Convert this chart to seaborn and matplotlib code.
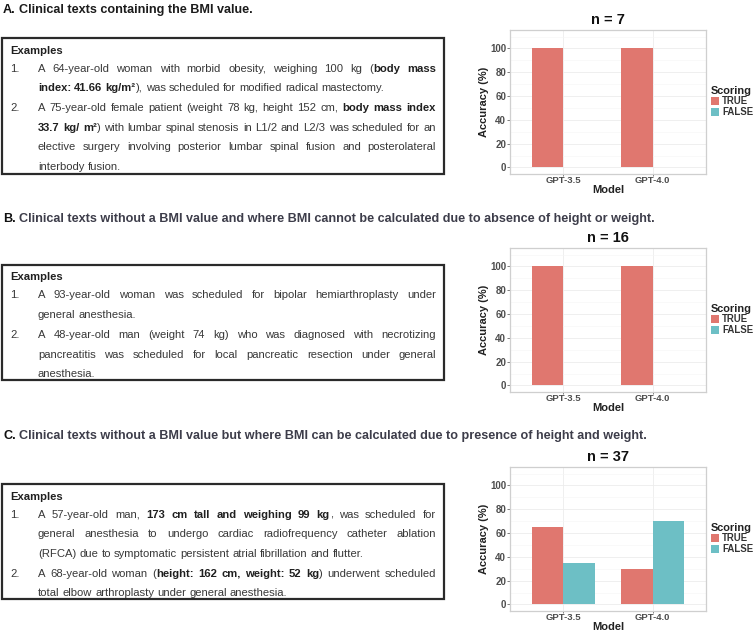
import matplotlib
matplotlib.use("Agg")
import matplotlib.pyplot as plt
from matplotlib.patches import Rectangle, Patch
import seaborn as sns
import pandas as pd

# ---------------- data ----------------
models = ["GPT-3.5", "GPT-4.0"]
scoring_levels = ["TRUE", "FALSE"]
n_a = 7
true_a = [100, 100]
false_a = [0, 0]
n_b = 16
true_b = [100, 100]
false_b = [0, 0]
n_c = 37
true_c = [65, 30]
false_c = [35, 70]
yticks = [0, 20, 40, 60, 80, 100]

titles = [
    ("A.", "Clinical texts containing the BMI value."),
    ("B.", "Clinical texts without a BMI value and where BMI cannot be calculated due to absence of height or weight."),
    ("C.", "Clinical texts without a BMI value but where BMI can be calculated due to presence of height and weight."),
]

# each example: list of lines, ** marks bold
examples_a = [
    ["A 64-year-old woman with morbid obesity, weighing 100 kg (**body mass**",
     "**index: 41.66 kg/m²**), was scheduled for modified radical mastectomy."],
    ["A 75-year-old female patient (weight 78 kg, height 152 cm, **body mass index**",
     "**33.7 kg/ m²**) with lumbar spinal stenosis in L1/2 and L2/3 was scheduled for an",
     "elective surgery involving posterior lumbar spinal fusion and posterolateral",
     "interbody fusion."],
]
examples_b = [
    ["A 93-year-old woman was scheduled for bipolar hemiarthroplasty under",
     "general anesthesia."],
    ["A 48-year-old man (weight 74 kg) who was diagnosed with necrotizing",
     "pancreatitis was scheduled for local pancreatic resection under general",
     "anesthesia."],
]
examples_c = [
    ["A 57-year-old man, **173 cm tall and weighing 99 kg**, was scheduled for",
     "general anesthesia to undergo cardiac radiofrequency catheter ablation",
     "(RFCA) due to symptomatic persistent atrial fibrillation and flutter."],
    ["A 68-year-old woman (**height: 162 cm, weight: 52 kg**) underwent scheduled",
     "total elbow arthroplasty under general anesthesia."],
]

# ---------------- style ----------------
sns.set_theme(style="white")
FONT = ["Liberation Sans", "DejaVu Sans"]
plt.rcParams["font.family"] = FONT

RED = "#E0776F"
TEAL = "#6DBFC5"
W, H = 755, 633
fig = plt.figure(figsize=(W / 100, H / 100), dpi=100)
fig.patch.set_facecolor("white")

ov = fig.add_axes([0, 0, 1, 1], zorder=0)
ov.set_xlim(0, W)
ov.set_ylim(H, 0)
ov.axis("off")
renderer = fig.canvas.get_renderer()

BODY_FS = 8.15
BODY_COLOR = "#383838"
TITLE_FS = 9.1


def tw(s, bold, fs=BODY_FS):
    t = ov.text(0, 0, s, fontsize=fs, fontweight="bold" if bold else "normal")
    w = t.get_window_extent(renderer).width
    t.remove()
    return w


def parse(line):
    parts = line.split("**")
    segs = [(p, i % 2 == 1) for i, p in enumerate(parts) if p]
    words, cur = [], []
    for text, bold in segs:
        toks = text.split(" ")
        for j, tok in enumerate(toks):
            if j > 0 and cur:
                words.append(cur)
                cur = []
            if tok:
                cur.append((tok, bold))
    if cur:
        words.append(cur)
    return words


SPACE = tw("a a", False) - tw("aa", False)


def draw_line(line, x0, x1, y, justify):
    words = parse(line)
    widths = [[tw(s, b) for s, b in wd] for wd in words]
    total = sum(sum(w) for w in widths)
    if justify and len(words) > 1:
        gap = max((x1 - x0 - total) / (len(words) - 1), 0.7 * SPACE)
    else:
        gap = SPACE
    x = x0
    for wd, ws in zip(words, widths):
        for (s, b), w in zip(wd, ws):
            ov.text(x, y, s, fontsize=BODY_FS, fontweight="bold" if b else "normal",
                    color="#202020" if b else BODY_COLOR, va="baseline", ha="left")
            x += w
        x += gap


def draw_box(top, height, examples):
    ov.add_patch(Rectangle((2, top), 442, height, fill=False, edgecolor="#2a2a2a", lw=1.6, zorder=3))
    ov.text(10, top + 12 + 3.5, "Examples", fontsize=BODY_FS, fontweight="bold",
            color="#202020", va="baseline")
    y = top + 30
    for k, ex in enumerate(examples):
        ov.text(10, y + 3.5, f"{k + 1}.", fontsize=BODY_FS, color=BODY_COLOR, va="baseline")
        for i, line in enumerate(ex):
            draw_line(line, 38, 436, y + 3.5, justify=(i < len(ex) - 1))
            y += 19.7


def draw_title(y, letter, rest, rest_color):
    base = y + 4.2
    ov.text(3, base, letter, fontsize=TITLE_FS, fontweight="bold", color="#111111",
            va="baseline")
    x = 3 + tw(letter, True, TITLE_FS) + (tw("a a", True, TITLE_FS) - tw("aa", True, TITLE_FS))
    ov.text(x, base, rest, fontsize=TITLE_FS, fontweight="bold", color=rest_color,
            va="baseline")


draw_title(9, *titles[0], rest_color="#1c1c1c")
draw_title(218, *titles[1], rest_color="#3d3d4a")
draw_title(435, *titles[2], rest_color="#3d3d4a")

draw_box(38, 136, examples_a)
draw_box(265, 115, examples_b)
draw_box(484, 115, examples_c)


def chart(top, n, tvals, fvals):
    left, right, bottom = 510, 706, top + 144
    ax = fig.add_axes([left / W, 1 - bottom / H, (right - left) / W, (bottom - top) / H], zorder=2)
    df = pd.DataFrame({
        "Model": models * 2,
        "Accuracy": list(tvals) + list(fvals),
        "Scoring": [scoring_levels[0]] * len(models) + [scoring_levels[1]] * len(models),
    })
    sns.barplot(data=df, x="Model", y="Accuracy", hue="Scoring", hue_order=scoring_levels,
                order=models, palette=[RED, TEAL], width=0.7, saturation=1,
                linewidth=0, errorbar=None, ax=ax, legend=False)
    ax.set_xlim(-0.6, 1.6)
    ax.set_ylim(-5.5, 115.5)
    ax.set_yticks(yticks)
    ax.set_yticks([10, 30, 50, 70, 90, 110], minor=True)
    ax.set_facecolor("white")
    ax.set_axisbelow(True)
    ax.grid(True, which="major", color="#ececec", lw=0.6)
    ax.grid(True, which="minor", axis="y", color="#f5f5f5", lw=0.4)
    for sp in ax.spines.values():
        sp.set_visible(True)
        sp.set_color("#cfcfcf")
        sp.set_linewidth(0.9)
    ax.tick_params(axis="y", which="major", length=2, width=0.6, color="#666666",
                   labelcolor="#4d4d4d", labelsize=7, pad=0.8, left=True)
    ax.tick_params(axis="x", which="major", length=1.5, width=0.6, color="#666666",
                   labelcolor="#4d4d4d", labelsize=6.8, pad=0, bottom=True)
    ax.tick_params(axis="y", which="minor", length=0)
    for lab in ax.get_xticklabels() + ax.get_yticklabels():
        lab.set_fontweight("bold")
    ax.set_xlabel("Model", fontsize=8, fontweight="bold", color="#222222", labelpad=0)
    ax.set_ylabel("Accuracy (%)", fontsize=8, fontweight="bold", color="#222222", labelpad=0.5)
    ax.set_title(f"n = {n}", fontsize=10.5, fontweight="bold", color="#111111", pad=4)
    handles = [Patch(facecolor=RED, edgecolor="none"), Patch(facecolor=TEAL, edgecolor="none")]
    leg = ax.legend(handles, scoring_levels, title="Scoring", loc="upper left",
                    bbox_to_anchor=(711 / W, 1 - (top + 56) / H), bbox_transform=fig.transFigure,
                    frameon=False, handlelength=0.8, handleheight=0.95, handletextpad=0.35,
                    borderpad=0, borderaxespad=0, labelspacing=0.05,
                    prop={"weight": "bold", "size": 6.9},
                    title_fontproperties={"weight": "bold", "size": 7.9}, alignment="left")
    leg.get_title().set_color("#222222")
    for t in leg.get_texts():
        t.set_color("#333333")
    return ax


chart(30, n_a, true_a, false_a)
chart(248, n_b, true_b, false_b)
chart(467, n_c, true_c, false_c)

fig.savefig("out.png", dpi=100, facecolor="white")
